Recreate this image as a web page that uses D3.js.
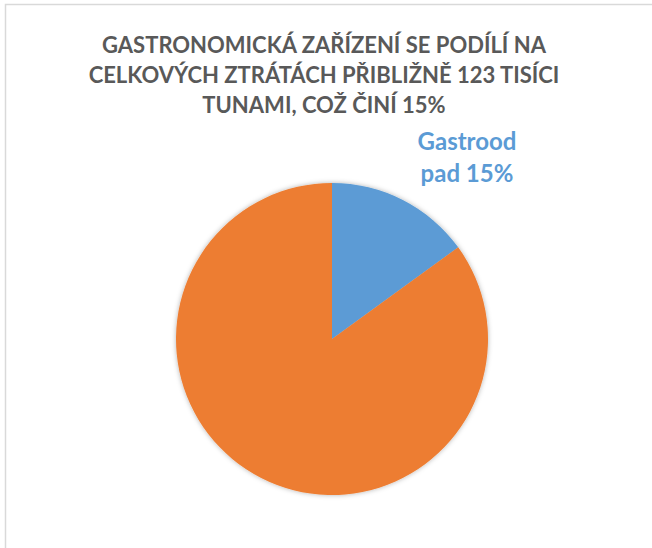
<!DOCTYPE html>
<html>
<head>
<meta charset="utf-8">
<script src="https://cdn.jsdelivr.net/npm/d3@7"></script>
<style>
  body { margin: 0; background: #fff; }
</style>
</head>
<body>
<div id="chart"></div>
<script>
// data
var categories = ["Gastroodpad", "Ostatní"];
var values = [15, 85];
var labels = ["Gastrood", "pad 15%"];
var titleLines = [
  "GASTRONOMICKÁ ZAŘÍZENÍ SE PODÍLÍ NA",
  "CELKOVÝCH ZTRÁTÁCH PŘIBLIŽNĚ 123 TISÍCI",
  "TUNAMI, COŽ ČINÍ 15%"
];
var colors = ["#5b9bd5", "#ed7d31"];

var svgWidth = 652, svgHeight = 548;
var cx = 332, cy = 339, radius = 156;

var svg = d3.select("#chart").append("svg")
  .attr("width", svgWidth)
  .attr("height", svgHeight);

// chart border
svg.append("rect")
  .attr("x", 5.5).attr("y", 4.5)
  .attr("width", svgWidth)
  .attr("height", svgHeight)
  .attr("fill", "#fff")
  .attr("stroke", "#d9d9d9")
  .attr("stroke-width", 1.5);

// soft shadow like the office chart
var defs = svg.append("defs");
var f = defs.append("filter").attr("id", "shadow")
  .attr("x", "-10%").attr("y", "-10%").attr("width", "120%").attr("height", "120%");
f.append("feDropShadow")
  .attr("dx", 0).attr("dy", 0)
  .attr("stdDeviation", 2.5)
  .attr("flood-color", "#000")
  .attr("flood-opacity", 0.3);

// title
svg.append("g").selectAll("text")
  .data(titleLines)
  .enter().append("text")
  .attr("x", 324)
  .attr("y", (d, i) => 53 + i * 30)
  .attr("text-anchor", "middle")
  .attr("font-family", "Lato, 'Open Sans', sans-serif")
  .attr("font-weight", "bold")
  .attr("font-size", "22px")
  .attr("fill", "#595959")
  .text(d => d);

var pie = d3.pie().sort(null).value(d => d);
var arc = d3.arc().innerRadius(0).outerRadius(radius);

var pieGroup = svg.append("g")
  .attr("transform", "translate(" + cx + "," + cy + ")")
  .attr("filter", "url(#shadow)");

pieGroup.selectAll("path")
  .data(pie(values))
  .enter().append("path")
  .attr("d", arc)
  .attr("fill", (d, i) => colors[i]);

// data label for the blue slice
svg.append("g").selectAll("text")
  .data(labels)
  .enter().append("text")
  .attr("x", 467)
  .attr("y", (d, i) => 150 + i * 32)
  .attr("text-anchor", "middle")
  .attr("font-family", "Lato, 'Open Sans', sans-serif")
  .attr("font-weight", "bold")
  .attr("font-size", "24px")
  .attr("fill", colors[0])
  .text(d => d);
</script>
</body>
</html>
